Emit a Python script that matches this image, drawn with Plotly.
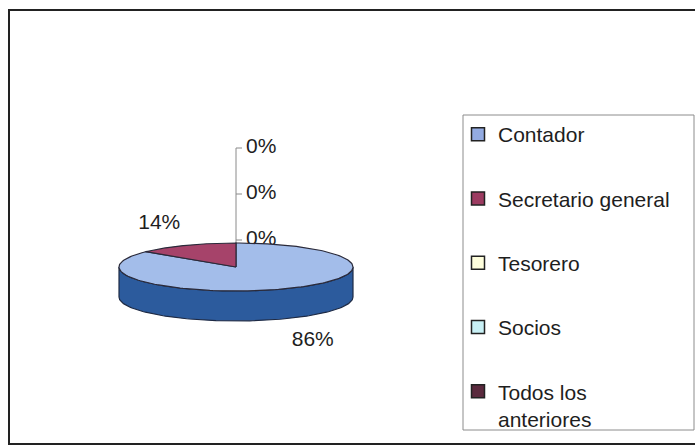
import numpy as np
import plotly.graph_objects as go

# ---- data ----
categories = ["Contador", "Secretario general", "Tesorero", "Socios", "Todos los<br>anteriores"]
values = [86, 14, 0, 0, 0]

# ---- styles ----
top_colors = ["#a3bdea", "#a6436a", "#ffffd9", "#ccf4f8", "#5e2a42"]
side_colors = ["#2c5b9d", "#6e2442", "#cccca0", "#8fb8bc", "#3a1828"]
legend_colors = ["#93abe2", "#9c3b61", "#ffffdd", "#c8f0f5", "#5b2a3e"]
FONT = "Liberation Sans, Arial, sans-serif"
W, H = 695, 446

# pie geometry (pixel space)
cx, cy = 236, 267
a, b = 117, 24
depth = 30

total = sum(values)
fracs = [v / total for v in values]
pcts = [f"{round(f * 100)}%" for f in fracs]

def pt(theta_deg, dy=0.0):
    t = np.radians(theta_deg)
    return cx + a * np.sin(t), cy - b * np.cos(t) + dy

fig = go.Figure()

# slice angles (clockwise from 12 o'clock)
starts, ends = [], []
acc = 0.0
for f in fracs:
    starts.append(acc * 360)
    acc += f
    ends.append(acc * 360)

# ---- leader lines and labels for zero slices (drawn behind the pie) ----
zero_idx = [i for i, v in enumerate(values) if v == 0]
gap = 46
label_y0 = cy - b - 3
lx, ly = [cx, cx], [cy - b, label_y0 - gap * (len(zero_idx) - 1)]
zx, zy, zt = [], [], []
for k, i in enumerate(zero_idx):
    yy = label_y0 - gap * k
    lx += [None, cx, cx + 6]
    ly += [None, yy, yy]
    zx.append(cx + 10)
    zy.append(yy)
    zt.append(pcts[i])
fig.add_trace(go.Scatter(x=lx, y=ly, mode="lines", line=dict(color="#8a8a8a", width=1),
                         hoverinfo="skip", showlegend=False))
fig.add_trace(go.Scatter(x=zx, y=zy, mode="text", text=zt, textposition="middle right",
                         textfont=dict(family=FONT, size=21, color="#1e1e1e"),
                         hoverinfo="skip", showlegend=False))

# ---- side walls (front half: 90..270 deg) ----
for i, v in enumerate(values):
    if v == 0:
        continue
    s0, s1 = max(starts[i], 90), min(ends[i], 270)
    if s1 <= s0:
        continue
    th = np.linspace(s0, s1, 120)
    top = [pt(t) for t in th]
    bot = [pt(t, depth) for t in th[::-1]]
    xs = [p[0] for p in top + bot] + [top[0][0]]
    ys = [p[1] for p in top + bot] + [top[0][1]]
    fig.add_trace(go.Scatter(x=xs, y=ys, mode="lines", fill="toself", fillcolor=side_colors[i],
                             line=dict(color="#1e2a44", width=1.2), hoverinfo="skip",
                             showlegend=False))

# ---- top faces ----
for i, v in enumerate(values):
    if v == 0:
        continue
    th = np.linspace(starts[i], ends[i], 200)
    arc = [pt(t) for t in th]
    xs = [cx] + [p[0] for p in arc] + [cx]
    ys = [cy] + [p[1] for p in arc] + [cy]
    fig.add_trace(go.Scatter(x=xs, y=ys, mode="lines", fill="toself", fillcolor=top_colors[i],
                             line=dict(color="#2a2a3a", width=1.2), hoverinfo="skip",
                             showlegend=False))

# ---- percentage labels for non-zero slices ----
px_, py_, pt_ = [], [], []
for i, v in enumerate(values):
    if v == 0:
        continue
    mid = np.radians((starts[i] + ends[i]) / 2)
    x = cx + 1.54 * a * np.sin(mid)
    y = cy - 2.0 * b * np.cos(mid) + (depth if np.cos(mid) < 0 else 0)
    px_.append(x)
    py_.append(y)
    pt_.append(pcts[i])
fig.add_trace(go.Scatter(x=px_, y=py_, mode="text", text=pt_, textposition="middle center",
                         textfont=dict(family=FONT, size=21, color="#1e1e1e"),
                         hoverinfo="skip", showlegend=False))

# ---- legend entries ----
for i, c in enumerate(categories):
    fig.add_trace(go.Scatter(x=[None], y=[None], mode="markers", name=c,
                             legendgroup=f"g{i}",
                             marker=dict(symbol="square", size=13, color=legend_colors[i],
                                         line=dict(color="#222", width=1.5))))

fig.update_layout(
    width=W, height=H,
    margin=dict(l=0, r=0, t=0, b=0),
    paper_bgcolor="white", plot_bgcolor="white",
    font=dict(family=FONT, size=21, color="#1e1e1e"),
    xaxis=dict(range=[0, W], visible=False, fixedrange=True),
    yaxis=dict(range=[H, 0], visible=False, fixedrange=True),
    showlegend=True,
    legend=dict(x=458 / W, y=1 - 114 / H, xanchor="left", yanchor="top",
                bgcolor="rgba(0,0,0,0)", borderwidth=0,
                font=dict(family=FONT, size=21, color="#1e1e1e"),
                tracegroupgap=34, itemwidth=30, valign="top"),
    shapes=[
        dict(type="rect", xref="x", yref="y", x0=9, y0=10, x1=W + 2, y1=444,
             line=dict(color="#222", width=2), layer="below"),
        dict(type="rect", xref="x", yref="y", x0=463, y0=115, x1=W - 1, y1=430,
             line=dict(color="#8c8c8c", width=1), fillcolor="white", layer="below"),
    ],
)

fig.write_html("out.html", config={"displayModeBar": False},
               post_script="document.body.style.margin='0';")
